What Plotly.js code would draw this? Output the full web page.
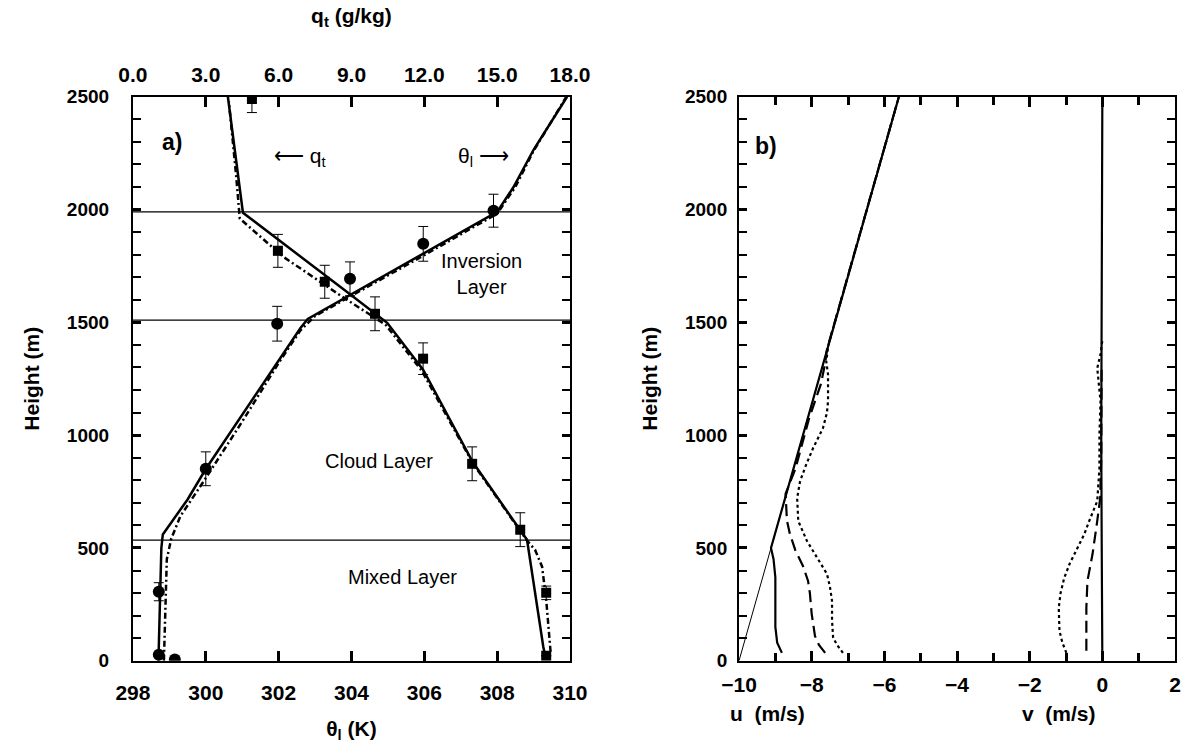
<!DOCTYPE html>
<html>
<head>
<meta charset="utf-8">
<script src="https://cdn.plot.ly/plotly-3.0.1.min.js"></script>
<style>html,body{margin:0;padding:0;background:#fff}#chart{width:1187px;height:753px}</style>
</head>
<body>
<div id="chart"></div>
<script>
// ---------- Panel a: theta_l (K) and q_t (g/kg) vs height ----------
const thetaSolidX = [298.70, 298.72, 298.75, 298.78, 298.82, 299.50, 300.00, 301.00, 302.00, 302.60, 302.80, 304.00, 306.00, 308.00, 308.45, 309.00, 309.92];
const thetaSolidZ = [0, 100, 300, 500, 560, 715, 850, 1090, 1330, 1475, 1515, 1625, 1808, 1990, 2100, 2265, 2500];
const thetaDashX = [298.85, 298.88, 298.93, 299.05, 299.30, 300.00, 301.00, 302.00, 302.60, 303.00, 304.00, 306.00, 308.00, 308.50, 309.00, 309.90];
const thetaDashZ = [0, 200, 450, 540, 640, 810, 1060, 1320, 1465, 1528, 1618, 1798, 1982, 2100, 2260, 2500];
const thetaObsX = [299.15, 298.71, 298.71, 300.00, 301.96, 303.96, 305.97, 307.90];
const thetaObsZ = [6, 27, 306, 851, 1494, 1693, 1848, 1995];
const thetaObsErr = [0, 0, 40, 75, 77, 75, 77, 73];

const qSolidX = [16.98, 16.90, 16.23, 14.00, 11.95, 10.47, 8.86, 4.53, 3.91];
const qSolidZ = [20, 62, 536, 880, 1290, 1498, 1631, 1986, 2500];
const qDashX = [17.20, 17.10, 17.02, 16.85, 16.56, 16.25, 14.00, 11.90, 10.40, 8.60, 6.20, 4.40, 4.25, 3.95];
const qDashZ = [40, 150, 270, 417, 492, 530, 875, 1285, 1490, 1615, 1790, 1960, 2150, 2480];
const qObsX = [4.90, 5.97, 7.90, 9.97, 11.95, 13.97, 15.95, 17.02, 17.02];
const qObsZ = [2490, 1817, 1680, 1538, 1339, 873, 581, 301, 22];
const qObsErrPlus = [0, 73, 73, 75, 70, 75, 75, 30, 0];
const qObsErrMinus = [60, 73, 73, 75, 70, 75, 75, 30, 0];

const layerZ = [535, 1510, 1990];
const thetaRange = [298, 310];
const qRange = [0, 18];
const zRange = [0, 2500];

// ---------- Panel b: u and v (m/s) vs height ----------
const windRange = [-10, 2];
const ugX = [-10.0, -5.6];
const ugZ = [0, 2500];
const uSolidX = [-8.82, -8.95, -9.00, -9.00, -9.05, -9.12, -5.60];
const uSolidZ = [35, 80, 150, 370, 450, 500, 2500];
const uDashX = [-7.63, -7.80, -7.91, -8.00, -8.05, -8.10, -8.24, -8.45, -8.60, -8.68, -8.70, -8.72, -8.45, -8.07, -7.75, -7.63, -7.58, -5.60];
const uDashZ = [35, 70, 110, 208, 300, 354, 420, 490, 562, 620, 680, 740, 850, 1075, 1225, 1318, 1380, 2500];
const uDotX = [-7.14, -7.30, -7.41, -7.44, -7.44, -7.50, -7.58, -7.85, -8.13, -8.37, -8.40, -8.32, -8.15, -7.96, -7.69, -7.58, -7.55, -7.55, -7.60, -7.54, -5.60];
const uDotZ = [35, 70, 102, 180, 265, 330, 385, 456, 531, 620, 721, 796, 870, 943, 1031, 1100, 1150, 1270, 1327, 1400, 2500];
const vSolidX = [0.00, 0.00, -0.02, -0.03, -0.02, 0.00];
const vSolidZ = [0, 300, 600, 1000, 1400, 2500];
const vDashX = [-0.44, -0.45, -0.44, -0.41, -0.33, -0.27, -0.14, -0.06, -0.03, -0.02];
const vDashZ = [44, 150, 235, 354, 430, 473, 620, 720, 900, 1300];
const vDotX = [-0.99, -1.10, -1.18, -1.20, -1.15, -1.05, -0.90, -0.72, -0.50, -0.36, -0.14, -0.08, -0.08, -0.05, -0.10, -0.14, -0.05, 0.00];
const vDotZ = [35, 80, 133, 235, 300, 367, 430, 487, 560, 620, 708, 854, 1004, 1150, 1250, 1297, 1360, 1420];

const FONT = 'Liberation Sans, Arial, sans-serif';
const blk = '#000';

const traces = [];
layerZ.forEach(z => traces.push({x: thetaRange, y: [z, z], xaxis: 'x', yaxis: 'y3', mode: 'lines', line: {color: blk, width: 1.2}, hoverinfo: 'skip', showlegend: false}));
traces.push({x: thetaDashX, y: thetaDashZ, xaxis: 'x', yaxis: 'y', mode: 'lines', line: {color: blk, width: 2.5, dash: '6px,3px,2px,3px'}, showlegend: false});
traces.push({x: thetaSolidX, y: thetaSolidZ, xaxis: 'x', yaxis: 'y', mode: 'lines', line: {color: blk, width: 2.5}, showlegend: false});
traces.push({x: qDashX, y: qDashZ, xaxis: 'x2', yaxis: 'y', mode: 'lines', line: {color: blk, width: 2.5, dash: '6px,3px,2px,3px'}, showlegend: false});
traces.push({x: qSolidX, y: qSolidZ, xaxis: 'x2', yaxis: 'y', mode: 'lines', line: {color: blk, width: 2.5}, showlegend: false});
traces.push({x: thetaObsX, y: thetaObsZ, xaxis: 'x', yaxis: 'y', mode: 'markers',
  marker: {symbol: 'circle', size: 12, color: blk},
  error_y: {type: 'data', array: thetaObsErr, color: blk, thickness: 1, width: 5}, showlegend: false});
traces.push({x: qObsX, y: qObsZ, xaxis: 'x2', yaxis: 'y', mode: 'markers',
  marker: {symbol: 'square', size: 10, color: blk},
  error_y: {type: 'data', symmetric: false, array: qObsErrPlus, arrayminus: qObsErrMinus, color: blk, thickness: 1, width: 5}, showlegend: false});

traces.push({x: ugX, y: ugZ, xaxis: 'x4', yaxis: 'y4', mode: 'lines', line: {color: blk, width: 1}, showlegend: false});
traces.push({x: uDotX, y: uDotZ, xaxis: 'x3', yaxis: 'y2', mode: 'lines', line: {color: blk, width: 2.2, dash: 'dot'}, showlegend: false});
traces.push({x: uDashX, y: uDashZ, xaxis: 'x3', yaxis: 'y2', mode: 'lines', line: {color: blk, width: 2.2, dash: '12px,6px'}, showlegend: false});
traces.push({x: uSolidX, y: uSolidZ, xaxis: 'x3', yaxis: 'y2', mode: 'lines', line: {color: blk, width: 2.2}, showlegend: false});
traces.push({x: vDotX, y: vDotZ, xaxis: 'x3', yaxis: 'y2', mode: 'lines', line: {color: blk, width: 2.2, dash: 'dot'}, showlegend: false});
traces.push({x: vDashX, y: vDashZ, xaxis: 'x3', yaxis: 'y2', mode: 'lines', line: {color: blk, width: 2.2, dash: '12px,6px'}, showlegend: false});
traces.push({x: vSolidX, y: vSolidZ, xaxis: 'x3', yaxis: 'y2', mode: 'lines', line: {color: blk, width: 2.2}, showlegend: false});

const tickFontX = {family: FONT, size: 21, color: blk, weight: 'bold'};
const tickFontY = {family: FONT, size: 19, color: blk, weight: 'bold'};
const titleFont = {family: FONT, size: 21, color: blk, weight: 'bold'};
const ydom = [0.1225, 0.8715];
const base = {ticks: 'inside', tickwidth: 2.5, tickcolor: blk, showline: true, linewidth: 2, linecolor: blk, showgrid: false, zeroline: false};
const yMinor = {dtick: 100, ticks: 'inside', ticklen: 8, tickwidth: 2, tickcolor: blk};

const layout = {
  width: 1187, height: 753,
  margin: {l: 0, r: 0, t: 0, b: 0},
  paper_bgcolor: '#fff', plot_bgcolor: '#fff',
  showlegend: false,
  xaxis: Object.assign({}, base, {domain: [0.1120, 0.4802], anchor: 'y', range: thetaRange, tick0: 298, dtick: 2,
    ticklen: 10, mirror: 'ticks', tickfont: tickFontX, ticklabelstandoff: 12,
    title: {text: 'θ<sub>l</sub> (K)', font: titleFont, standoff: 18}}),
  xaxis2: Object.assign({}, base, {overlaying: 'x', side: 'top', anchor: 'y', range: qRange, tick0: 0, dtick: 3, tickformat: '.1f',
    ticklen: 10, mirror: 'ticks', tickfont: tickFontX, ticklabelstandoff: 4,
    title: {text: 'q<sub>t</sub> (g/kg)', font: titleFont, standoff: 34}}),
  yaxis: Object.assign({}, base, {domain: ydom, anchor: 'x', range: zRange, dtick: 500,
    ticklen: 8, mirror: 'ticks', minor: yMinor, tickfont: tickFontY, ticklabelstandoff: 18,
    title: {text: 'Height (m)', font: titleFont, standoff: 22}}),
  yaxis3: Object.assign({}, base, {overlaying: 'y', side: 'right', anchor: 'x', range: zRange, dtick: 500,
    ticklen: 8, minor: yMinor, showticklabels: false}),
  xaxis3: Object.assign({}, base, {domain: [0.6226, 0.9899], anchor: 'y2', range: windRange, tick0: 0, dtick: 2,
    ticklen: 10, mirror: 'ticks', minor: {dtick: 1, ticks: 'inside', ticklen: 8, tickwidth: 2.5, tickcolor: blk},
    tickfont: tickFontX, ticklabelstandoff: 4}),
  xaxis4: Object.assign({}, base, {overlaying: 'x3', side: 'top', anchor: 'y4', range: windRange, tick0: 0, dtick: 1,
    ticklen: 8, mirror: 'ticks', showticklabels: false}),
  yaxis2: Object.assign({}, base, {domain: ydom, anchor: 'x3', range: zRange, dtick: 500,
    ticklen: 8, minor: yMinor, tickfont: tickFontY, ticklabelstandoff: 6,
    title: {text: 'Height (m)', font: titleFont, standoff: 22}}),
  yaxis4: Object.assign({}, base, {overlaying: 'y2', side: 'right', anchor: 'x4', range: zRange, dtick: 500,
    ticklen: 8, minor: yMinor, showticklabels: false}),
  annotations: [
    {xref: 'paper', yref: 'paper', x: 160/1187, y: 1 - 127/753, text: '<b>a)</b>', showarrow: false, font: {family: FONT, size: 23, color: blk}},
    {xref: 'paper', yref: 'paper', x: 272/1187, y: 1 - 142/753, text: '⟵ q<sub>t</sub>', showarrow: false, font: {family: FONT, size: 21, color: blk}},
    {xref: 'paper', yref: 'paper', x: 483/1187, y: 1 - 142/753, text: 'θ<sub>l</sub> ⟶', showarrow: false, font: {family: FONT, size: 21, color: blk}},
    {xref: 'paper', yref: 'paper', x: 481/1187, y: 1 - 248/753, text: 'Inversion<br>Layer', showarrow: false, font: {family: FONT, size: 20, color: blk}},
    {xref: 'paper', yref: 'paper', x: 323/1187, y: 1 - 461/753, text: 'Cloud Layer', showarrow: false, font: {family: FONT, size: 20, color: blk}},
    {xref: 'paper', yref: 'paper', x: 346/1187, y: 1 - 590/753, text: 'Mixed Layer', showarrow: false, font: {family: FONT, size: 20, color: blk}},
    {xref: 'paper', yref: 'paper', x: 766/1187, y: 1 - 131/753, text: '<b>b)</b>', showarrow: false, font: {family: FONT, size: 23, color: blk}},
    {xref: 'paper', yref: 'paper', x: 807/1187, y: 1 - 727/753, text: '<b>u  (m/s)</b>', showarrow: false, font: {family: FONT, size: 21, color: blk}},
    {xref: 'paper', yref: 'paper', x: 1098/1187, y: 1 - 727/753, text: '<b>v  (m/s)</b>', showarrow: false, font: {family: FONT, size: 21, color: blk}}
  ]
};

Plotly.newPlot('chart', traces, layout, {displayModeBar: false});
</script>
</body>
</html>
